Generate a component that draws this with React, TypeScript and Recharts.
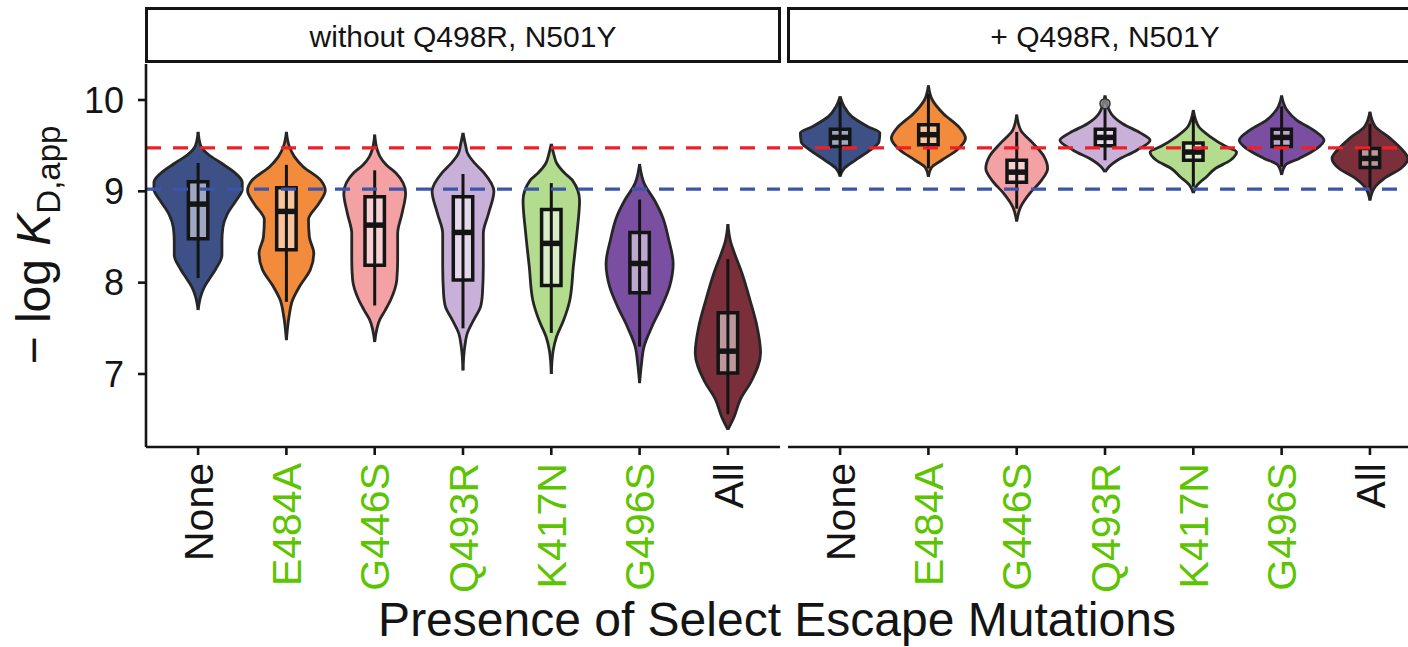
import React from 'react';
import { ComposedChart, Area, Line, XAxis, YAxis } from 'recharts';

const categories = ['None', 'E484A', 'G446S', 'Q493R', 'K417N', 'G496S', 'All'];
const facetLabels = ['without Q498R, N501Y', '+ Q498R, N501Y'];
const yTicks = [7, 8, 9, 10];
const xTicks = [1, 2, 3, 4, 5, 6, 7];

// violin outlines, top tip to bottom tip: [-log KD, half width]
const violinsWithout = [
  [[9.65, 0], [9.5, 0.03], [9.4, 0.12], [9.31, 0.26], [9.2, 0.42], [9.1, 0.5], [9.02, 0.5], [8.9, 0.43], [8.75, 0.33], [8.6, 0.28], [8.45, 0.27], [8.3, 0.27], [8.15, 0.2], [8.03, 0.12], [7.95, 0.07], [7.85, 0.03], [7.7, 0]],
  [[9.65, 0], [9.5, 0.03], [9.38, 0.09], [9.27, 0.19], [9.12, 0.39], [9.01, 0.44], [8.87, 0.37], [8.69, 0.25], [8.5, 0.26], [8.32, 0.31], [8.14, 0.27], [7.96, 0.15], [7.81, 0.07], [7.63, 0.03], [7.37, 0]],
  [[9.62, 0], [9.45, 0.03], [9.38, 0.06], [9.29, 0.13], [9.2, 0.24], [8.98, 0.35], [8.76, 0.31], [8.54, 0.26], [8.25, 0.26], [8.03, 0.25], [7.81, 0.18], [7.7, 0.12], [7.6, 0.06], [7.35, 0]],
  [[9.64, 0], [9.5, 0.03], [9.42, 0.05], [9.3, 0.14], [9.2, 0.24], [9.0, 0.35], [8.76, 0.29], [8.54, 0.23], [8.18, 0.23], [7.88, 0.22], [7.74, 0.2], [7.59, 0.12], [7.45, 0.05], [7.3, 0.02], [7.04, 0]],
  [[9.52, 0], [9.4, 0.03], [9.31, 0.06], [9.2, 0.15], [9.12, 0.24], [8.9, 0.32], [8.54, 0.29], [8.18, 0.25], [7.81, 0.21], [7.59, 0.14], [7.41, 0.06], [7.25, 0.02], [7.0, 0]],
  [[9.3, 0], [9.15, 0.03], [9.09, 0.05], [8.9, 0.17], [8.72, 0.26], [8.47, 0.33], [8.21, 0.38], [7.96, 0.34], [7.74, 0.25], [7.52, 0.14], [7.3, 0.05], [7.1, 0.02], [6.9, 0]],
  [[8.64, 0], [8.45, 0.03], [8.36, 0.06], [8.1, 0.16], [7.81, 0.25], [7.52, 0.33], [7.23, 0.37], [6.93, 0.27], [6.72, 0.14], [6.53, 0.07], [6.39, 0]],
];

const violinsWith = [
  [[10.04, 0], [9.93, 0.045], [9.82, 0.13], [9.71, 0.31], [9.64, 0.45], [9.54, 0.44], [9.45, 0.34], [9.34, 0.17], [9.25, 0.045], [9.16, 0]],
  [[10.16, 0], [10.0, 0.045], [9.85, 0.17], [9.71, 0.34], [9.58, 0.42], [9.45, 0.32], [9.34, 0.15], [9.26, 0.035], [9.16, 0]],
  [[9.84, 0], [9.67, 0.045], [9.53, 0.18], [9.38, 0.31], [9.25, 0.35], [9.12, 0.28], [8.98, 0.15], [8.83, 0.045], [8.67, 0]],
  [[10.05, 0], [9.85, 0.07], [9.74, 0.2], [9.64, 0.4], [9.56, 0.51], [9.45, 0.36], [9.34, 0.14], [9.27, 0.045], [9.21, 0]],
  [[9.89, 0], [9.71, 0.06], [9.6, 0.19], [9.49, 0.37], [9.43, 0.49], [9.34, 0.42], [9.25, 0.25], [9.16, 0.15], [9.07, 0.045], [8.98, 0]],
  [[10.05, 0], [9.89, 0.06], [9.78, 0.17], [9.67, 0.36], [9.56, 0.48], [9.47, 0.4], [9.36, 0.2], [9.29, 0.045], [9.18, 0]],
  [[9.87, 0], [9.71, 0.06], [9.58, 0.23], [9.45, 0.37], [9.36, 0.43], [9.25, 0.35], [9.14, 0.16], [9.05, 0.06], [8.9, 0]],
];

// box stats: [lower whisker, q1, median, q3, upper whisker]
const boxesWithout = [
  [8.05, 8.48, 8.86, 9.105, 9.31],
  [7.79, 8.36, 8.78, 9.04, 9.29],
  [7.75, 8.19, 8.63, 8.94, 9.23],
  [7.5, 8.03, 8.55, 8.94, 9.19],
  [7.45, 7.97, 8.43, 8.8, 9.09],
  [7.3, 7.89, 8.21, 8.55, 8.91],
  [6.56, 7.01, 7.25, 7.67, 8.26],
];

const boxesWith = [
  [9.18, 9.49, 9.59, 9.68, 9.98],
  [9.25, 9.51, 9.62, 9.73, 10.07],
  [8.81, 9.1, 9.21, 9.34, 9.65],
  [9.34, 9.5, 9.59, 9.68, 9.91],
  [9.05, 9.34, 9.43, 9.53, 9.82],
  [9.27, 9.49, 9.59, 9.68, 9.93],
  [9.01, 9.26, 9.36, 9.47, 9.74],
];

const outlierGroupsWith = [4];
const outlierValuesWith = [9.96];

const refValues = [9.475, 9.025];

// styles
const FONT = '"Liberation Sans", Arial, Helvetica, sans-serif';
const INK = '#141414';
const violinFill = ['#3d5186', '#f28b3b', '#f4a1a3', '#c9b0d9', '#b4dc8f', '#7a4fa2', '#7a2f3b'];
const boxFill = ['#9ea8c3', '#f9c59d', '#f9d0d1', '#e4d8ec', '#d9edc7', '#bca7d1', '#bc979d'];
const labelColor = [INK, '#5cc400', '#5cc400', '#5cc400', '#5cc400', '#5cc400', INK];
const refColor = ['#ee2027', '#3a55ab'];
const BOX_HALF = 0.11;
const Y_DOMAIN: [number, number] = [6.2007, 10.394];

const XTick = (props: any) => {
  const { x, y, payload } = props;
  const idx = Math.round(payload.value) - 1;
  return (
    <text
      x={x}
      y={y}
      transform={`rotate(-90 ${x} ${y})`}
      textAnchor="end"
      dy="0.36em"
      fontSize={41}
      fontFamily={FONT}
      fill={labelColor[idx]}
    >
      {categories[idx]}
    </text>
  );
};

interface PanelProps {
  violins: number[][][];
  boxes: number[][];
  xDomain: [number, number];
  width: number;
  showY: boolean;
  outlierGroups?: number[];
  outlierValues?: number[];
}

function Panel({ violins, boxes, xDomain, width, showY, outlierGroups = [], outlierValues = [] }: PanelProps) {
  const areas: React.ReactNode[] = [];
  const lines: React.ReactNode[] = [];

  violins.forEach((shape, i) => {
    const pos = i + 1;
    areas.push(
      <Area
        key={`violin-${i}`}
        data={shape.map(([y, w]) => ({ y, x: [pos - w, pos + w] }))}
        dataKey="x"
        type="monotone"
        fill={violinFill[i]}
        fillOpacity={1}
        stroke="#262626"
        strokeWidth={2.8}
        dot={false}
        activeDot={false}
        isAnimationActive={false}
      />
    );
  });

  boxes.forEach(([lo, q1, med, q3, hi], i) => {
    const pos = i + 1;
    areas.push(
      <Area
        key={`boxfill-${i}`}
        data={[{ y: q3, x: [pos - BOX_HALF, pos + BOX_HALF] }, { y: q1, x: [pos - BOX_HALF, pos + BOX_HALF] }]}
        dataKey="x"
        type="linear"
        fill={boxFill[i]}
        fillOpacity={1}
        stroke="none"
        dot={false}
        activeDot={false}
        isAnimationActive={false}
      />
    );
    lines.push(
      <Line
        key={`whisker-${i}`}
        data={[{ y: hi, x: pos }, { y: q3, x: pos }, { y: med, x: null }, { y: q1, x: pos }, { y: lo, x: pos }]}
        dataKey="x"
        type="linear"
        stroke={INK}
        strokeWidth={3}
        dot={false}
        activeDot={false}
        connectNulls={false}
        isAnimationActive={false}
      />
    );
    lines.push(
      <Line
        key={`box-${i}`}
        data={[
          { y: q3, x: pos - BOX_HALF },
          { y: q3, x: pos + BOX_HALF },
          { y: q1, x: pos + BOX_HALF },
          { y: q1, x: pos - BOX_HALF },
          { y: q3, x: pos - BOX_HALF },
        ]}
        dataKey="x"
        type="linear"
        stroke={INK}
        strokeWidth={3.5}
        strokeLinecap="square"
        strokeLinejoin="miter"
        dot={false}
        activeDot={false}
        isAnimationActive={false}
      />
    );
    lines.push(
      <Line
        key={`median-${i}`}
        data={[{ y: med, x: pos - BOX_HALF }, { y: med, x: pos + BOX_HALF }]}
        dataKey="x"
        type="linear"
        stroke={INK}
        strokeWidth={5.5}
        dot={false}
        activeDot={false}
        isAnimationActive={false}
      />
    );
  });

  outlierGroups.forEach((g, i) => {
    lines.push(
      <Line
        key={`outlier-${i}`}
        data={[{ y: outlierValues[i], x: g }]}
        dataKey="x"
        stroke="none"
        dot={{ r: 5, fill: '#8c8c8c', stroke: '#333', strokeWidth: 1.5, fillOpacity: 0.8 }}
        activeDot={false}
        isAnimationActive={false}
      />
    );
  });

  refValues.forEach((v, i) => {
    lines.push(
      <Line
        key={`ref-${i}`}
        data={[{ y: v, x: xDomain[0] }, { y: v, x: xDomain[1] }]}
        dataKey="x"
        type="linear"
        stroke={refColor[i]}
        strokeWidth={3.2}
        strokeDasharray="15 12"
        dot={false}
        activeDot={false}
        isAnimationActive={false}
      />
    );
  });

  return (
    <ComposedChart
      layout="vertical"
      width={width}
      height={647}
      margin={{ top: 64, right: 0, bottom: 0, left: 0 }}
    >
      <XAxis
        type="number"
        dataKey="x"
        domain={xDomain}
        allowDataOverflow
        ticks={xTicks}
        interval={0}
        tick={<XTick />}
        tickSize={8}
        tickMargin={8}
        height={200}
        axisLine={{ stroke: INK, strokeWidth: 2.6 }}
        tickLine={{ stroke: INK, strokeWidth: 2.6 }}
      />
      <YAxis
        type="number"
        dataKey="y"
        domain={Y_DOMAIN}
        reversed
        allowDataOverflow
        ticks={yTicks}
        interval={0}
        hide={!showY}
        width={showY ? 146 : 0}
        tickSize={8}
        tickMargin={14}
        tick={{ fontSize: 36, fill: INK, fontFamily: FONT }}
        axisLine={{ stroke: INK, strokeWidth: 2.6 }}
        tickLine={{ stroke: INK, strokeWidth: 2.6 }}
      />
      {areas}
      {lines}
    </ComposedChart>
  );
}

export default function App() {
  return (
    <div
      style={{
        position: 'absolute',
        left: 0,
        top: 0,
        width: 1408,
        height: 647,
        overflow: 'hidden',
        background: '#fff',
        fontFamily: FONT,
      }}
    >
      <div style={{ position: 'absolute', left: 0, top: 0 }}>
        <Panel violins={violinsWithout} boxes={boxesWithout} xDomain={[0.41, 7.59]} width={780} showY />
      </div>
      <div style={{ position: 'absolute', left: 788, top: 0 }}>
        <Panel
          violins={violinsWith}
          boxes={boxesWith}
          xDomain={[0.41, 7.431]}
          width={620}
          showY={false}
          outlierGroups={outlierGroupsWith}
          outlierValues={outlierValuesWith}
        />
      </div>
      <svg
        width={1408}
        height={647}
        style={{ position: 'absolute', left: 0, top: 0, pointerEvents: 'none' }}
      >
        <rect x={146.5} y={8.5} width={633} height={53} fill="#fff" stroke={INK} strokeWidth={3} />
        <rect x={788.5} y={8.5} width={640} height={53} fill="#fff" stroke={INK} strokeWidth={3} />
        <text x={463} y={47} textAnchor="middle" fontSize={30} fill={INK} fontFamily={FONT}>
          {facetLabels[0]}
        </text>
        <text x={1105} y={47} textAnchor="middle" fontSize={30} fill={INK} fontFamily={FONT}>
          {facetLabels[1]}
        </text>
        <text
          transform="translate(50 245) rotate(-90)"
          textAnchor="middle"
          fontSize={48}
          fill={INK}
          fontFamily={FONT}
        >
          {'− log '}
          <tspan fontStyle="italic">K</tspan>
          <tspan fontSize={33} dy={10}>D,app</tspan>
        </text>
        <text x={777} y={636} textAnchor="middle" fontSize={48} fill={INK} fontFamily={FONT}>
          Presence of Select Escape Mutations
        </text>
      </svg>
    </div>
  );
}
